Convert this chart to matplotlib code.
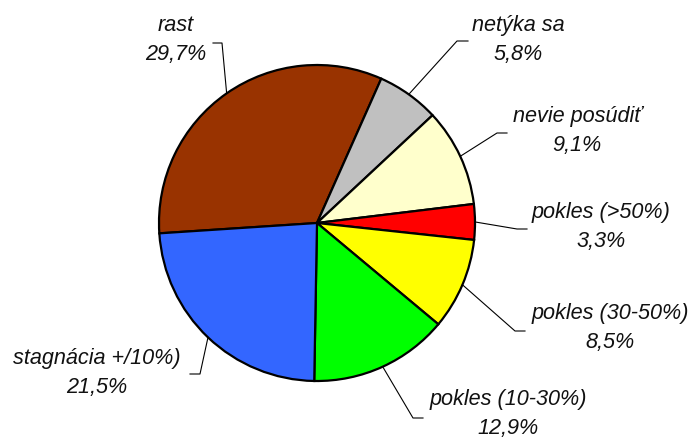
import math

import matplotlib

matplotlib.use("Agg")
import matplotlib.pyplot as plt

# Podiel odpovedí (v %) v poradí v smere hodinových ručičiek
categories = [
    "rast",
    "netýka sa",
    "nevie posúdiť",
    "pokles (>50%)",
    "pokles (30-50%)",
    "pokles (10-30%)",
    "stagnácia +/10%)",
]
shares = [29.7, 5.8, 9.1, 3.3, 8.5, 12.9, 21.5]
colors = ["#993300", "#C0C0C0", "#FFFFCC", "#FF0000", "#FFFF00", "#00FF00", "#3366FF"]

W, H = 693, 438
# stred a polomer koláča v pixeloch (y od spodu)
cx, cy, r = 317, H - 223, 158

# umiestnenie popisov: stred textu, koleno odkazovej čiary, koniec čiary
label_pos = [(176, 40), (518, 40), (577, 131), (601, 227), (610, 328), (508, 414), (97, 373)]
elbows = [((222, 43), (213, 43)),
          ((457, 41), (468, 41)),
          ((497, 133), (507, 133)),
          ((517, 229), (527, 229)),
          ((515, 331), (525, 331)),
          ((413, 418), (423, 418)),
          ((200, 374), (190, 374))]

fig = plt.figure(figsize=(W / 100, H / 100), dpi=100)
ax = fig.add_axes([0, 0, 1, 1])

# začiatok prvého výseku tak, aby hranica rast/netýka sa bola približne na 66°
start = 66 + shares[0] / sum(shares) * 360
wedges, _ = ax.pie(
    shares,
    colors=colors,
    startangle=start,
    counterclock=False,
    center=(cx, cy),
    radius=r,
    frame=True,
    wedgeprops={"edgecolor": "black", "linewidth": 1.6},
)
ax.set_xlim(0, W)
ax.set_ylim(0, H)
ax.set_aspect("equal")
ax.set_axis_off()

for wedge, name, val, (tx, ty), (knee, end) in zip(wedges, categories, shares, label_pos, elbows):
    mid = math.radians((wedge.theta1 + wedge.theta2) / 2)
    px, py = cx + r * math.cos(mid), cy + r * math.sin(mid)
    xs = [px, knee[0], end[0]]
    ys = [py, H - knee[1], H - end[1]]
    ax.plot(xs, ys, color="black", linewidth=0.8)
    ax.text(tx, H - ty, f"{name}\n{val:.1f}%".replace(".", ","),
            ha="center", va="center", fontsize=15.6, fontstyle="italic",
            family="Liberation Sans", color="#111111", linespacing=1.5)

fig.savefig("out.png", dpi=100)
